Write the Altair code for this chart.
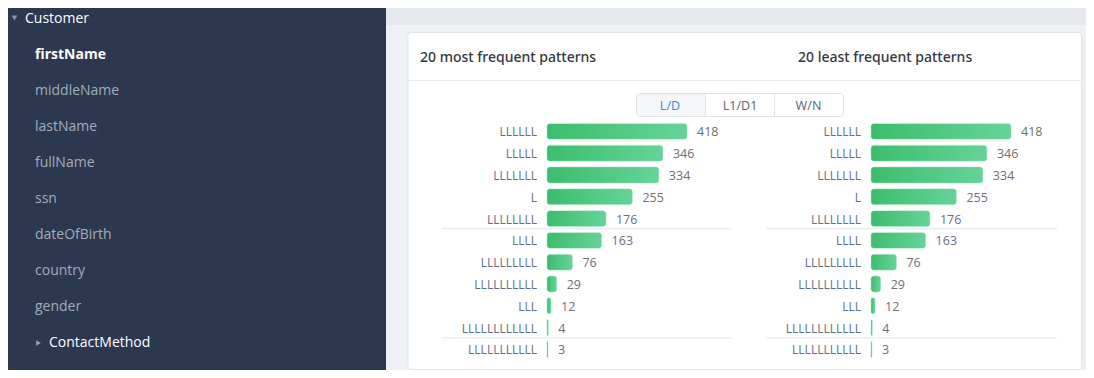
import altair as alt
import pandas as pd

# ---------------- data ----------------
sidebar_group = "Customer"
sidebar_items = ["firstName", "middleName", "lastName", "fullName", "ssn",
                 "dateOfBirth", "country", "gender", "ContactMethod"]
panel_titles = ["20 most frequent patterns", "20 least frequent patterns"]
toggle_labels = ["L/D", "L1/D1", "W/N"]
patterns = ["LLLLLL", "LLLLL", "LLLLLLL", "L", "LLLLLLLL", "LLLL",
            "LLLLLLLLL", "LLLLLLLLLL", "LLL", "LLLLLLLLLLLL", "LLLLLLLLLLL"]
counts_most = [418, 346, 334, 255, 176, 163, 76, 29, 12, 4, 3]
counts_least = [418, 346, 334, 255, 176, 163, 76, 29, 12, 4, 3]

W, H = 1078, 362
FONT = "Open Sans"

def rect(x, x2, y, y2, fill, stroke=None, radius=0):
    kw = dict(fill=fill, cornerRadius=radius)
    if stroke:
        kw.update(stroke=stroke, strokeWidth=1)
    return alt.Chart(pd.DataFrame({"k": [0]})).mark_rect(**kw).encode(
        x=alt.value(x), x2=alt.value(x2), y=alt.value(y), y2=alt.value(y2))

def hline(x, x2, y, color, width=1):
    return alt.Chart(pd.DataFrame({"k": [0]})).mark_rule(color=color, strokeWidth=width).encode(
        x=alt.value(x), x2=alt.value(x2), y=alt.value(y))

def vline(x, y, y2, color):
    return alt.Chart(pd.DataFrame({"k": [0]})).mark_rule(color=color, strokeWidth=1).encode(
        x=alt.value(x), y=alt.value(y), y2=alt.value(y2))

def label(txt, x, y, size=14, color="#333", weight="normal", align="left", font=FONT):
    return alt.Chart(pd.DataFrame({"t": [txt]})).mark_text(
        align=align, baseline="middle", fontSize=size, color=color,
        fontWeight=weight, font=font).encode(
        x=alt.value(x), y=alt.value(y), text="t:N")

# ---------------- chrome ----------------
chrome = [
    rect(0, 378, 0, H, "#2c3850"),
    rect(378, W, 0, H, "#eef1f4"),
    rect(378, W, 0, 17, "#e5e8ec"),
    rect(400, 1073.5, 24.5, 361.5, "#ffffff", stroke="#e1e5e9", radius=3),
    hline(400, 1073.5, 72.5, "#e6e9ed"),
    rect(628.5, 835.5, 85.5, 108.5, "#ffffff", stroke="#dfe3e8", radius=3),
    rect(629, 697, 86, 108, "#f4f6f8"),
    vline(697.5, 86, 108, "#dfe3e8"),
    vline(766.5, 86, 108, "#dfe3e8"),
    label(panel_titles[0], 412, 50, size=14, color="#333840", weight=500, font="Noto Sans"),
    label(panel_titles[1], 790, 50, size=14, color="#333840", weight=500, font="Noto Sans"),
    label(toggle_labels[0], 662, 98, size=12.5, color="#3a8ee6", align="center", font="Noto Sans"),
    label(toggle_labels[1], 732, 98, size=12.5, color="#666c75", align="center", font="Noto Sans"),
    label(toggle_labels[2], 800.5, 98, size=12.5, color="#666c75", align="center", font="Noto Sans"),
    label(sidebar_group, 17, 11, size=14, color="#ffffff"),
    alt.Chart(pd.DataFrame({"k": [0]})).mark_point(
        shape="triangle-down", filled=True, size=32, color="#8a93a1", opacity=1).encode(
        x=alt.value(6.5), y=alt.value(10)),
]

# ---------------- sidebar ----------------
side_df = pd.DataFrame({"item": sidebar_items})
side_y = alt.Y("item:N", sort=sidebar_items, axis=None,
               scale=alt.Scale(type="point", range=[47, 335], padding=0))
side_base = alt.Chart(side_df)
sidebar = alt.layer(
    side_base.mark_text(align="left", baseline="middle", fontSize=14, font=FONT,
                        color="#a3acb9").encode(x=alt.value(27), y=side_y, text="item:N")
    .transform_filter("datum.item != 'firstName' && datum.item != 'ContactMethod'"),
    side_base.mark_text(align="left", baseline="middle", fontSize=14, font=FONT,
                        fontWeight="bold", color="#ffffff").encode(x=alt.value(27), y=side_y, text="item:N")
    .transform_filter("datum.item == 'firstName'"),
    side_base.mark_text(align="left", baseline="middle", fontSize=14, font=FONT,
                        color="#ffffff").encode(x=alt.value(41), y=side_y, text="item:N")
    .transform_filter("datum.item == 'ContactMethod'"),
    side_base.mark_point(shape="triangle-right", filled=True, size=28, color="#9aa3b0", opacity=1)
    .encode(x=alt.value(30.5), y=side_y)
    .transform_filter("datum.item == 'ContactMethod'"),
)

# ---------------- bar panels ----------------
grad = alt.LinearGradient(
    gradient="linear", x1=0, x2=1, y1=0, y2=0,
    stops=[alt.GradientStop(color="#3cbd6c", offset=0),
           alt.GradientStop(color="#66d399", offset=1)])

def panel(counts, bar_x0, label_x, rule_x0, rule_x1):
    df = pd.DataFrame({"pattern": patterns, "count": counts, "rank": list(range(len(patterns)))})
    yscale = alt.Scale(type="band", range=[115.4, 349.4], paddingInner=0.27, paddingOuter=0)
    y = alt.Y("pattern:N", sort=patterns, axis=None, scale=yscale)
    x = alt.X("count:Q", axis=None,
              scale=alt.Scale(domain=[0, max(counts)], range=[bar_x0, bar_x0 + 140], nice=False, zero=True))
    base = alt.Chart(df)
    bars = base.mark_bar(fill=grad, cornerRadius=3, stroke="#7fdcab", strokeWidth=0.4).encode(
        x=x, x2=alt.value(bar_x0), y=y)
    names = base.mark_text(align="right", baseline="middle", fontSize=12, font=FONT, dy=1,
                           color="#5f6f86").encode(x=alt.value(label_x), y=y, text="pattern:N")
    vals = base.mark_text(align="left", baseline="middle", fontSize=12.5, font=FONT, dx=10, dy=1,
                          color="#6a6f78").encode(x=x, y=y, text="count:Q")
    seps = base.mark_rule(color="#eceff3", strokeWidth=1.6, yOffset=-3.8).encode(
        x=alt.value(rule_x0), x2=alt.value(rule_x1),
        y=alt.Y("pattern:N", sort=patterns, axis=None, bandPosition=0, scale=yscale)
    ).transform_filter("datum.rank == 5 || datum.rank == 10")
    return alt.layer(seps, bars, names, vals)

left = panel(counts_most, 539, 529, 434, 724)
right = panel(counts_least, 863, 853, 758, 1049)

chart = alt.layer(*chrome, sidebar, left, right).resolve_scale(
    x="independent", y="independent"
).properties(
    width=W, height=H, padding=0, autosize=alt.AutoSizeParams(type="none"),
    background="#ffffff"
).configure_view(stroke=None)

chart.save("out.html", embed_options={"renderer": "svg", "actions": False})
